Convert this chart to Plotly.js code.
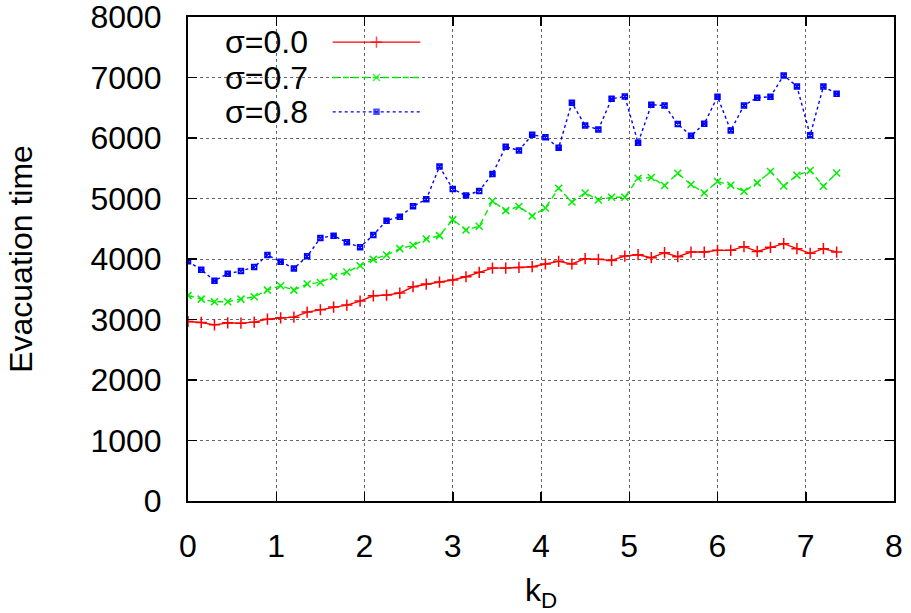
<!DOCTYPE html>
<html>
<head>
<meta charset="utf-8">
<script src="https://cdn.plot.ly/plotly-3.0.1.min.js"></script>
<style>html,body{margin:0;padding:0;background:#fff;}#chart{width:911px;height:613px;}</style>
</head>
<body>
<div id="chart"></div>
<script>
const kD = [0, 0.15, 0.3, 0.45, 0.6, 0.75, 0.9, 1.05, 1.2, 1.35,
  1.5, 1.65, 1.8, 1.95, 2.1, 2.25, 2.4, 2.55, 2.7, 2.85,
  3.0, 3.15, 3.3, 3.45, 3.6, 3.75, 3.9, 4.05, 4.2, 4.35,
  4.5, 4.65, 4.8, 4.95, 5.1, 5.25, 5.4, 5.55, 5.7, 5.85,
  6.0, 6.15, 6.3, 6.45, 6.6, 6.75, 6.9, 7.05, 7.2, 7.35];

const sigma00 = [2967, 2951, 2912, 2945, 2940, 2956, 3006, 3028, 3039, 3122,
  3161, 3205, 3238, 3305, 3392, 3403, 3437, 3541, 3586, 3619,
  3652, 3707, 3779, 3850, 3850, 3861, 3873, 3917, 3961, 3917,
  4005, 3994, 3977, 4049, 4071, 4022, 4104, 4038, 4115, 4115,
  4143, 4143, 4204, 4126, 4193, 4253, 4171, 4093, 4171, 4115];

const sigma07 = [3398, 3337, 3293, 3293, 3337, 3376, 3486, 3558, 3486, 3586,
  3613, 3712, 3784, 3890, 3994, 4066, 4171, 4226, 4331, 4386,
  4651, 4480, 4540, 4960, 4800, 4868, 4711, 4844, 5169, 4943,
  5092, 4976, 5020, 5020, 5335, 5346, 5214, 5418, 5230, 5092,
  5280, 5219, 5120, 5258, 5445, 5208, 5385, 5462, 5203, 5423];

const sigma08 = [3961, 3823, 3641, 3757, 3801, 3867, 4066, 3955, 3845, 4044,
  4347, 4386, 4275, 4195, 4397, 4634, 4700, 4871, 4987, 5528,
  5158, 5048, 5125, 5407, 5854, 5795, 6052, 6014, 5837, 6582,
  6207, 6141, 6648, 6687, 5920, 6549, 6538, 6230, 6036, 6235,
  6682, 6124, 6538, 6665, 6682, 7035, 6853, 6047, 6853, 6731];

const seriesNames = ["σ=0.0", "σ=0.7", "σ=0.8"];
const xTickVals = [0, 1, 2, 3, 4, 5, 6, 7, 8];
const yTickVals = [0, 1000, 2000, 3000, 4000, 5000, 6000, 7000, 8000];

const styles = [
  {color: "#ff0000", dash: "solid", symbol: "cross-thin-open", size: 8},
  {color: "#00ee00", dash: "6px,4px", symbol: "x-thin-open", size: 7},
  {color: "#0000ff", dash: "3px,3px", symbol: "square-x-open", size: 5}
];
const seriesData = [sigma00, sigma07, sigma08];

const traces = seriesData.map((ys, i) => ({
  x: kD, y: ys, type: "scatter", mode: "lines+markers",
  name: seriesNames[i], showlegend: false, hoverinfo: "skip",
  line: {color: styles[i].color, width: 1.4, dash: styles[i].dash},
  marker: {symbol: styles[i].symbol, size: styles[i].size, color: styles[i].color,
           line: {color: styles[i].color, width: 1.5}}
}));

// legend samples (gnuplot-style key: text left, sample right)
const keyRows = [0.948, 0.875, 0.804];
const keyX = [0.205, 0.267, 0.329];
keyRows.forEach((ry, i) => {
  traces.push({
    x: keyX, y: [ry, ry, ry], xaxis: "x2", yaxis: "y2", type: "scatter",
    mode: "lines+markers", showlegend: false, hoverinfo: "skip",
    line: {color: styles[i].color, width: 1.4, dash: styles[i].dash},
    marker: {symbol: styles[i].symbol, size: [0, styles[i].size, 0], color: styles[i].color,
             line: {color: styles[i].color, width: 1.5}}
  });
});

const font = {family: "Liberation Sans, Arial, sans-serif", size: 32, color: "#000"};

const axisCommon = {
  showline: true, linecolor: "#000", linewidth: 2, mirror: "ticks",
  ticks: "inside", ticklen: 9, tickwidth: 1.5, tickcolor: "#000",
  showgrid: true, gridcolor: "#666", griddash: "dot", gridwidth: 1,
  zeroline: false, tickfont: font, automargin: false,
  ticklabeloverflow: "allow"
};

const layout = {
  width: 911, height: 613,
  margin: {l: 188, r: 17, t: 17, b: 112},
  paper_bgcolor: "#fff", plot_bgcolor: "#fff",
  font: font,
  showlegend: false,
  xaxis: Object.assign({}, axisCommon, {
    range: [0, 8], tickvals: xTickVals, ticktext: xTickVals.map(String),
    ticklabelstandoff: 16,
    title: {text: "k<sub>D</sub>", font: font, standoff: 20}
  }),
  yaxis: Object.assign({}, axisCommon, {
    range: [0, 8000], tickvals: yTickVals, ticktext: yTickVals.map(String),
    ticklabelstandoff: 18,
    title: {text: "Evacuation time", font: font, standoff: 48}
  }),
  xaxis2: {overlaying: "x", range: [0, 1], visible: false, fixedrange: true},
  yaxis2: {overlaying: "y", range: [0, 1], visible: false, fixedrange: true},
  shapes: [
    {type: "rect", xref: "paper", yref: "paper", x0: 0.028, x1: 0.357, y0: 0.773, y1: 0.979,
     fillcolor: "#fff", line: {width: 0}, layer: "between"}
  ],
  annotations: seriesNames.map((t, i) => ({
    text: t, xref: "paper", yref: "paper", x: 0.173, y: keyRows[i],
    xanchor: "right", yanchor: "middle", showarrow: false, font: font
  }))
};

Plotly.newPlot("chart", traces, layout, {staticPlot: true, displayModeBar: false});
</script>
</body>
</html>
